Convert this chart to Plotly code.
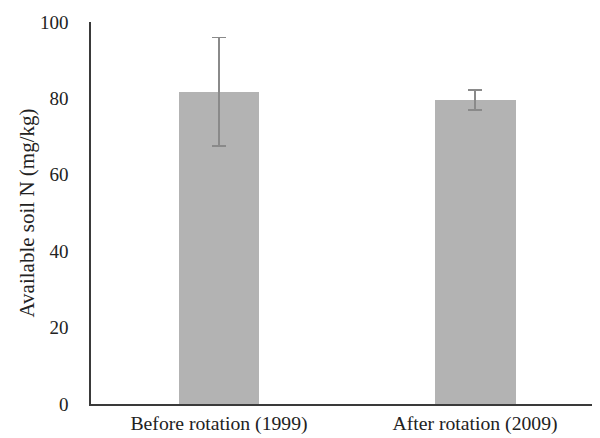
import plotly.graph_objects as go

categories = ["Before rotation (1999)", "After rotation (2009)"]
values = [81.7, 79.6]
errors = [14.2, 2.6]

x_pos = list(range(len(categories)))

fig = go.Figure()
fig.add_trace(go.Bar(
    x=x_pos, y=values, width=0.316,
    marker=dict(color="#b3b3b3", line=dict(width=0)),
    error_y=dict(type="data", array=errors, visible=True, color="#8a8a8a", thickness=1.5, width=7),
))

# page body has an 8px margin, so the figure is sized 8px smaller
fig.update_layout(
    width=592, height=430,
    margin=dict(l=83, r=0, t=14, b=34),
    paper_bgcolor="white", plot_bgcolor="white",
    font=dict(family="Liberation Serif", size=19.6, color="#222222"),
    showlegend=False,
    bargap=0,
)
fig.update_xaxes(
    tickmode="array", tickvals=x_pos, ticktext=categories,
    range=[-0.5, 1.488], showline=True, linecolor="#3a3a3a", linewidth=1.5,
    showgrid=False, zeroline=False, ticks="", ticklabelstandoff=1,
    tickfont=dict(family="Liberation Serif", size=19.7),
)
fig.update_yaxes(
    range=[0, 100], tickvals=[0, 20, 40, 60, 80, 100],
    showline=True, linecolor="#3a3a3a", linewidth=1.5,
    showgrid=False, zeroline=False, ticks="", ticklabelstandoff=17,
    tickfont=dict(family="Liberation Serif", size=19),
    title=dict(text="Available soil N (mg/kg)", standoff=0,
               font=dict(family="Liberation Serif", size=21)),
)

fig.write_html("out.html")
